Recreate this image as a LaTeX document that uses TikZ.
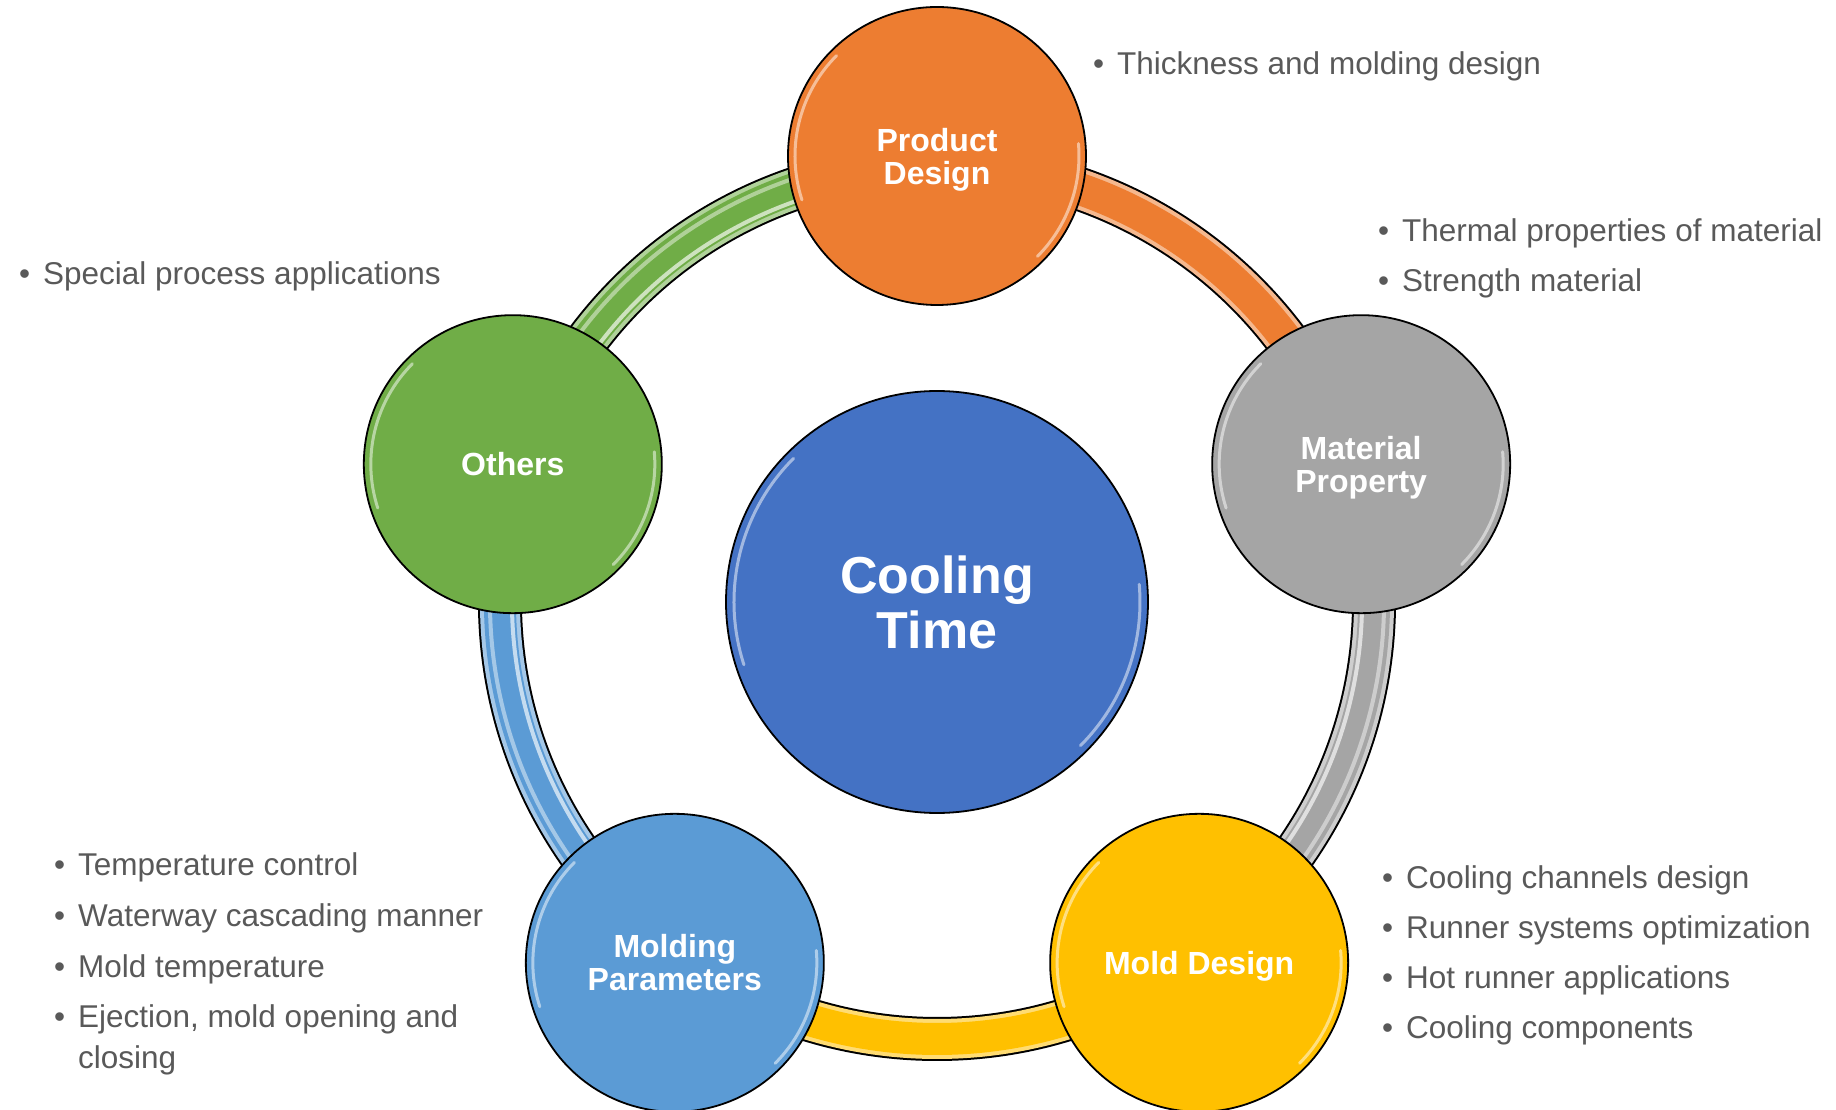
\documentclass[tikz,border=0pt]{standalone}
\usepackage{fontspec}
\setmainfont{Liberation Sans}
\usetikzlibrary{backgrounds}
\definecolor{pdorange}{HTML}{ED7D31}
\definecolor{mpgray}{HTML}{A5A5A5}
\definecolor{mdyellow}{HTML}{FFC000}
\definecolor{mpblue}{HTML}{5B9BD5}
\definecolor{otgreen}{HTML}{70AD47}
\definecolor{ctblue}{HTML}{4472C4}
\definecolor{notegray}{HTML}{595959}
\tikzset{
    % one factor bubble
    bubble/.style={circle, draw=black, line width=1.8pt, minimum size=298pt, inner sep=0pt,
           text depth=0pt, text=white, align=center, font=\bfseries\fontsize{32}{33}\selectfont},
    % grey bullet text
    note/.style={anchor=base west, inner sep=0pt, text=notegray, align=left,
           font=\fontsize{31.5}{41}\selectfont},
    % shiny rim
    gloss/.style={white, line width=3pt, opacity=0.5, line cap=round},
    shine/.style={white, line width=4pt, opacity=0.65}
}
\newcommand{\ringrad}{437}
\newcommand{\bul}[1]{\makebox[24pt][l]{\textbullet}#1}
% tube between two bubbles
\newcommand{\tube}[3]{%
  \draw[line width=44pt, black] ([shift={(#2:\ringrad)}]cool.center) arc[start angle=#2, end angle=#3, radius=\ringrad];
  \draw[line width=40pt, #1!55!white] ([shift={(#2:\ringrad)}]cool.center) arc[start angle=#2, end angle=#3, radius=\ringrad];
  \draw[line width=32pt, #1] ([shift={(#2:\ringrad)}]cool.center) arc[start angle=#2, end angle=#3, radius=\ringrad];
}
\newcommand{\tubeshine}[2]{%
  \draw[shine] ([shift={(#1:425)}]cool.center) arc[start angle=#1, end angle=#2, radius=425];
  \draw[shine, opacity=0.45] ([shift={(#1:447)}]cool.center) arc[start angle=#1, end angle=#2, radius=447];
}

\begin{document}
\begin{tikzpicture}[x=1pt, y=1pt]
\useasboundingbox (-937,-508) rectangle (899,602);

\node[bubble, minimum size=422pt, fill=ctblue, font=\bfseries\fontsize{52}{55}\selectfont] (cool) at (0,0) {Cooling\\Time};

\node[bubble, fill=pdorange] (prod) at (90:446) {Product\\Design};
\node[bubble, fill=mpgray] (mat) at (18:446) {Material\\Property};
\node[bubble, fill=mdyellow] (mold) at (-54:446) {Mold Design};
\node[bubble, fill=mpblue] (par) at (-126:446) {Molding\\Parameters};
\node[bubble, fill=otgreen] (oth) at (162:446) {Others};

\begin{scope}[on background layer]
\tube{pdorange}{90}{18}
\tube{mpgray}{18}{-54}
\tubeshine{18}{-54}
\tube{mdyellow}{-54}{-126}
\tube{mpblue}{-126}{-198}
\tubeshine{-126}{-198}
\tube{otgreen}{162}{90}
\tubeshine{162}{90}
\end{scope}

\foreach \n/\r in {cool/203, prod/142, mat/142, mold/142, par/142, oth/142} {
  \draw[gloss] ([shift={(135:\r)}]\n.center) arc[start angle=135, end angle=198, radius=\r];
  \draw[gloss] ([shift={(-45:\r)}]\n.center) arc[start angle=-45, end angle=5, radius=\r];
}

\node[note] (pdnote) at (156,527) {\bul{Thickness and molding design}};
\node[note] (matnote1) at (441,360) {\bul{Thermal properties of material}};
\node[note] (matnote2) at (441,310) {\bul{Strength material}};
\node[note] (othnote) at (-918,317) {\bul{Special process applications}};

\node[note] (moldnote1) at (445,-286) {\bul{Cooling channels design}};
\node[note] (moldnote2) at (445,-336) {\bul{Runner systems optimization}};
\node[note] (moldnote3) at (445,-386) {\bul{Hot runner applications}};
\node[note] (moldnote4) at (445,-436) {\bul{Cooling components}};

\node[note] (parnote1) at (-883,-273) {\bul{Temperature control}};
\node[note] (parnote2) at (-883,-324) {\bul{Waterway cascading manner}};
\node[note] (parnote3) at (-883,-375) {\bul{Mold temperature}};
\node[note] (parnote4) at (-883,-425) {\bul{\parbox[t]{400pt}{Ejection, mold opening and\\closing}}};

\end{tikzpicture}
\end{document}
